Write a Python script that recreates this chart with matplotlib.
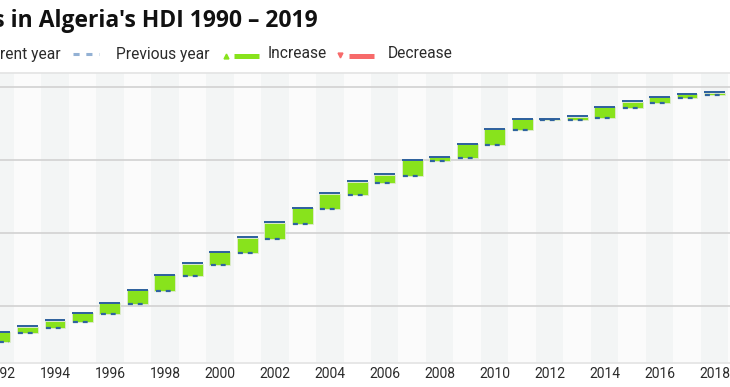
"""Yearly changes in Algeria's HDI, 1990-2019 (cropped view: 1992..2018 visible)."""
import matplotlib
matplotlib.use("Agg")
import matplotlib.pyplot as plt
from matplotlib.lines import Line2D

# HDI per year (2019 sits just outside the right edge)
years = list(range(1990, 2020))
hdi = [0.572, 0.576, 0.582, 0.586, 0.590, 0.595, 0.602, 0.611, 0.621, 0.629,
       0.637, 0.647, 0.657, 0.667, 0.677, 0.685, 0.690, 0.700, 0.702, 0.711,
       0.721, 0.728, 0.728, 0.7295, 0.736, 0.740, 0.743, 0.745, 0.746, 0.748]
grid_vals = [0.60, 0.65, 0.70, 0.75]
tick_years = list(range(1992, 2019, 2))

TITLE = "Changes in Algeria's HDI 1990 \u2013 2019"
LEGEND = ["Current year", "Previous year", "Increase", "Decrease"]

GREEN = "#88e31c"
RED = "#f76a6a"
TOPBLUE = "#2c5f9c"
DASHBLUE = "#2f649f"
LEGDASH = "#93b1d4"
TXT = "#2b2b2b"

W, H = 730, 387
plt.rcParams["font.family"] = ["Roboto", "DejaVu Sans"]
fig = plt.figure(figsize=(W / 100, H / 100), dpi=100)


def fx(px):
    return px / W


def fy(py):
    return 1 - py / H


# axes spans the full width; the chart is cut off at both sides
ax = fig.add_axes([0, fy(363), 1, fy(73) - fy(363)])
ax.set_xlim(1992 + 0.5 / 27.5, 1992 + 730.5 / 27.5)
ax.set_ylim(0.5611, 0.7596)
px1 = 1 / 1460  # one pixel in data units

for y in years:
    ax.axvspan(y - 0.5, y + 0.5, color="#f3f5f5" if y % 2 == 0 else "#fbfbfb", lw=0, zorder=0)
for g in grid_vals:
    ax.axhline(g, color="#d2d2d2", lw=1.2, zorder=1)

bw = 0.76
for i in range(1, len(years)):
    x, prev, cur = years[i], hdi[i - 1], hdi[i]
    col = GREEN if cur >= prev else RED
    ax.bar(x, cur - prev + px1, bottom=prev - px1, width=bw, color=col, edgecolor="#dfe9d2",
           lw=0.6, zorder=2)
    ax.plot([x - bw / 2 + 0.04, x + bw / 2 - 0.04], [prev - px1, prev - px1], color=DASHBLUE,
            lw=1.6, ls=(0, (2.2, 2.2)), zorder=3)
    ax.plot([x - bw / 2, x + bw / 2], [cur + 0.5 * px1, cur + 0.5 * px1], color=TOPBLUE, lw=1.4,
            zorder=4, solid_capstyle="butt")

ax.set_xticks(tick_years)
ax.set_xticklabels([str(t) for t in tick_years], fontsize=10, color=TXT)
ax.tick_params(axis="x", length=0, pad=3)
ax.set_yticks([])
for s in ("left", "right"):
    ax.spines[s].set_visible(False)
for s in ("top", "bottom"):
    ax.spines[s].set_color("#e3e3e3")
    ax.spines[s].set_linewidth(1.2)

# title (left part runs off the canvas)
fig.text(fx(318), fy(27), TITLE, ha="right", va="baseline", fontsize=16.5,
         fontweight="bold", color="#111111", family=["Open Sans", "DejaVu Sans"])

# hand-placed legend row
ly = fy(54)
fs = 11.2
fig.text(fx(61), ly, LEGEND[0], ha="right", va="center", fontsize=fs, color=TXT)
fig.add_artist(Line2D([fx(73), fx(99)], [ly, ly], color=LEGDASH, lw=2.2,
                      ls=(0, (2, 2.2)), transform=fig.transFigure))
fig.text(fx(116), ly, LEGEND[1], ha="left", va="center", fontsize=fs, color=TXT)
fig.add_artist(Line2D([fx(226)], [fy(56)], marker="^", ms=3.5, color=GREEN, lw=0,
                      transform=fig.transFigure))
fig.add_artist(Line2D([fx(234), fx(259)], [fy(55.5), fy(55.5)], color=GREEN, lw=3.6,
                      solid_capstyle="butt", transform=fig.transFigure))
fig.text(fx(268), ly, LEGEND[2], ha="left", va="center", fontsize=fs, color=TXT)
fig.add_artist(Line2D([fx(340)], [fy(55)], marker="v", ms=3.5, color=RED, lw=0,
                      transform=fig.transFigure))
fig.add_artist(Line2D([fx(349), fx(374)], [fy(55.5), fy(55.5)], color=RED, lw=3.6,
                      solid_capstyle="butt", transform=fig.transFigure))
fig.text(fx(388), ly, LEGEND[3], ha="left", va="center", fontsize=fs, color=TXT)

fig.savefig("out.png", dpi=100, facecolor="white")
